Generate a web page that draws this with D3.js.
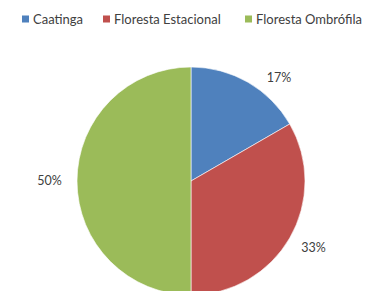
<!DOCTYPE html>
<html>
<head>
<meta charset="utf-8">
<script src="https://cdn.jsdelivr.net/npm/d3@7"></script>
<style>
  body { margin: 0; background: #fff; }
  svg { display: block; font-family: Lato, "Open Sans", sans-serif; }
</style>
</head>
<body>
<svg width="367" height="291"></svg>
<script>
const CATEGORIES = ['Caatinga', 'Floresta Estacional', 'Floresta Ombrófila']
const VALUES = [1, 2, 3]   // shares 17% / 33% / 50%
const COLORS = ['#4F81BD', '#C0504D', '#9BBB59']

const svg = d3.select('svg')
const cx = 191, cy = 181, radius = 114

const color = d3.scaleOrdinal().domain(CATEGORIES).range(COLORS)
const data = CATEGORIES.map((c, i) => ({ cat: c, value: VALUES[i] }))
const total = d3.sum(VALUES)

// legend along the top
const legendX = [22, 103, 245]
const legend = svg.append('g').selectAll('g')
    .data(CATEGORIES)
    .enter()
    .append('g')
    .attr('transform', (d, i) => `translate(${legendX[i]},19)`)
legend.append('rect')
    .attr('x', 0).attr('y', -3.5)
    .attr('width', 7).attr('height', 7)
    .attr('fill', d => color(d))
legend.append('text')
    .attr('x', 11).attr('y', 0)
    .attr('dy', '0.35em')
    .attr('font-size', 13)
    .attr('fill', '#404040')
    .text(d => d)

const pie = d3.pie().value(d => d.value).sort(null)
const arc = d3.arc().innerRadius(0).outerRadius(radius)
const arcs = pie(data)

const g = svg.append('g').attr('transform', `translate(${cx},${cy})`)
g.selectAll('path')
    .data(arcs)
    .enter()
    .append('path')
    .attr('d', arc)
    .attr('fill', d => color(d.data.cat))
    .attr('stroke', '#fff')
    .attr('stroke-width', 0.6)

// outside-end labels, kept below the top of the plot area
const fmt = d3.format('.0%')
const labelR = 128, lw = 27, lh = 11
const minY = -radius + 11
g.selectAll('text.lbl')
    .data(arcs)
    .enter()
    .append('text')
    .classed('lbl', true)
    .attr('font-size', 12.5)
    .attr('fill', '#404040')
    .attr('text-anchor', 'middle')
    .attr('dy', '0.3em')
    .each(function (d) {
        const a = (d.startAngle + d.endAngle) / 2
        let x = labelR * Math.sin(a) + lw / 2 * Math.sin(a)
        let y = -labelR * Math.cos(a) - lh / 2 * Math.cos(a)
        if (y < minY) {
            const r = Math.hypot(x, y)
            y = minY
            x = Math.sign(x) * Math.sqrt(r * r - y * y)
        }
        d3.select(this).attr('x', x).attr('y', y)
    })
    .text(d => fmt(d.data.value / total))
</script>
</body>
</html>
